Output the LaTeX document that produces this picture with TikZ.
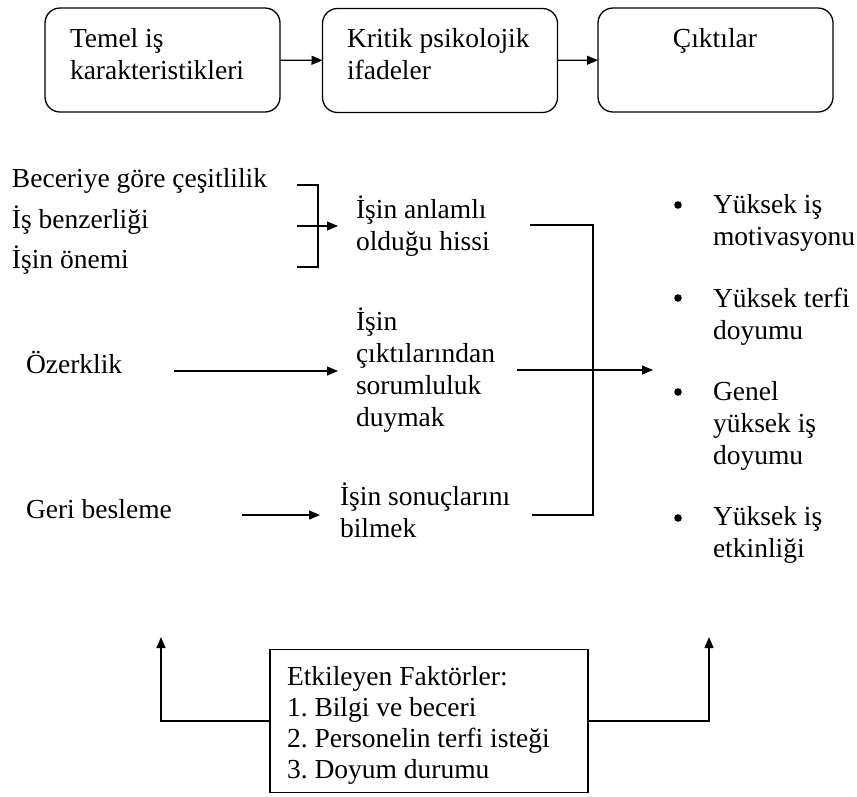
\documentclass[tikz,border=0pt]{standalone}
\usepackage{fontspec}
\setmainfont{Liberation Serif}
\usetikzlibrary{arrows.meta}
\frenchspacing
\newcommand\mlines[1]{\begin{tabular}[t]{@{}l@{}}#1\end{tabular}}
\begin{document}
\begin{tikzpicture}[x=1pt,y=-1pt,
  every node/.style={inner sep=0pt, outer sep=0pt, font=\fontsize{27.5}{32}\selectfont},
  rbox/.style={draw, line width=1.3pt, rounded corners=15pt, minimum width=235pt, minimum height=104pt},
  txt/.style={anchor=base west},
  arr/.style={line width=1.3pt, -{Triangle[length=11pt,width=9pt]}},
  ln/.style={line width=1.3pt}]
\path[use as bounding box] (0,0) rectangle (857,796);

% top boxes
\node[rbox] (b1) at (162.5,60) {};
\node[rbox] (b2) at (440,60.5) {};
\node[rbox] (b3) at (715.5,60) {};
\node[txt] (t1) at (70,47) {\mlines{Temel iş\\karakteristikleri}};
\node[txt] (t2) at (347,47) {\mlines{Kritik psikolojik\\ifadeler}};
\node[anchor=base] (t3) at (715,47) {Çıktılar};
\draw[arr] (b1) -- (b2);
\draw[arr] (b2) -- (b3);

% job characteristics
\node[txt] (s1) at (12,187) {Beceriye göre çeşitlilik};
\node[txt] (s2) at (12,228) {İş benzerliği};
\node[txt] (s3) at (12,268) {İşin önemi};
\node[txt] (s4) at (26,373) {Özerklik};
\node[txt] (s5) at (26,518) {Geri besleme};

% psychological states
\node[txt] (p1) at (356,218) {\mlines{İşin anlamlı\\olduğu hissi}};
\node[txt] (p2) at (356,330) {\mlines{İşin\\çıktılarından\\sorumluluk\\duymak}};
\node[txt] (p3) at (340,505) {\mlines{İşin sonuçlarını\\bilmek}};

% bracket
\coordinate (bt) at (297,185);
\coordinate (bb) at (297,267);
\coordinate (bm) at (297,226);
\draw[ln] (bt) -- ++(21,0) -- ++(0,82) -- (bb);
\draw[arr, shorten >=18pt] (bm) -- (bm -| p1.west);

\coordinate (a4) at (174,371);
\draw[arr, shorten >=18pt] (a4) -- (a4 -| p2.west);
\coordinate (a5) at (242,515);
\draw[arr, shorten >=20pt] (a5) -- (a5 -| p3.west);

% collector
\coordinate (c1) at (530,225);
\coordinate (c2) at (517,370);
\coordinate (c3) at (532,515);
\coordinate (out) at (653,370);
\draw[ln] (c1) -- ++(63,0) |- (c3);
\draw[arr] (c2) -- (out);

% outcomes
\fill (678,205) circle (3.8pt);
\fill (678,298) circle (3.8pt);
\fill (678,392) circle (3.8pt);
\fill (678,518) circle (3.8pt);
\node[txt] (o1) at (713,213) {\mlines{Yüksek iş\\motivasyonu}};
\node[txt] (o2) at (713,307) {\mlines{Yüksek terfi\\doyumu}};
\node[txt] (o3) at (713,400) {\mlines{Genel\\yüksek iş\\doyumu}};
\node[txt] (o4) at (713,525) {\mlines{Yüksek iş\\etkinliği}};

% factors
\node[draw, line width=1.3pt, minimum width=318pt, minimum height=143pt] (fac) at (429,721) {};
\node[txt, font=\fontsize{27.5}{31.3}\selectfont] (ft) at (287,685) {\mlines{Etkileyen Faktörler:\\1. Bilgi ve beceri\\2. Personelin terfi isteği\\3. Doyum durumu}};
\coordinate (lt) at (161,637);
\coordinate (rt) at (709,637);
\draw[arr] (fac.west) -| (lt);
\draw[arr] (fac.east) -| (rt);
\end{tikzpicture}
\end{document}
